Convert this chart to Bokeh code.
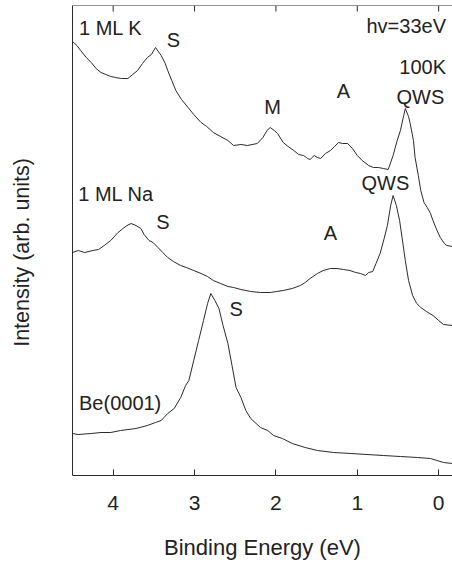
from bokeh.plotting import figure
from bokeh.models import Range1d, LinearAxis, FixedTicker, Label, Span
from bokeh.embed import file_html
from bokeh.resources import INLINE

# ---- data (binding energy in eV, intensity in arb. units) ----
k_energy = [4.50, 4.445, 4.40, 4.33, 4.27, 4.21, 4.15, 4.09, 4.03, 3.97, 3.90, 3.82, 3.76, 3.70, 3.64, 3.58,
            3.53, 3.48, 3.41, 3.36, 3.33, 3.28, 3.23, 3.16, 3.08, 3.01, 2.92, 2.85, 2.77, 2.68, 2.59, 2.52,
            2.43, 2.35, 2.23, 2.16, 2.11, 2.07, 2.02, 1.98, 1.91, 1.85, 1.78, 1.72, 1.66, 1.61, 1.58, 1.53,
            1.49, 1.45, 1.39, 1.33, 1.28, 1.23, 1.18, 1.12, 1.06, 1.00, 0.94, 0.86, 0.80, 0.74, 0.68, 0.62,
            0.56, 0.51, 0.47, 0.43, 0.41, 0.37, 0.35, 0.31, 0.29, 0.25, 0.22, 0.18, 0.14, 0.10, 0.07, 0.02,
            -0.02, -0.07, -0.10, -0.17]
k_intensity = [434, 430, 425, 418, 413, 407, 403, 401, 399, 398, 397, 397, 401, 405, 412, 418,
               421, 428, 420, 412, 405, 395, 385, 376, 368, 361, 353, 349, 343, 339, 335, 330,
               331, 330, 332, 338, 345, 348, 345, 342, 333, 329, 325, 321, 320, 317, 316, 320,
               318, 317, 322, 325, 329, 333, 332, 332, 327, 320, 315, 310, 308, 308, 307, 306,
               320, 335, 345, 360, 367, 359, 352, 335, 318, 300, 285, 273, 268, 262, 255, 245,
               238, 232, 230, 229]

na_energy = [4.50, 4.43, 4.35, 4.25, 4.18, 4.11, 4.03, 3.94, 3.88, 3.83, 3.78, 3.72, 3.66, 3.62, 3.56, 3.51,
             3.45, 3.39, 3.33, 3.26, 3.17, 3.10, 3.01, 2.92, 2.84, 2.77, 2.68, 2.59, 2.52, 2.43, 2.31, 2.19,
             2.07, 1.99, 1.91, 1.80, 1.70, 1.64, 1.58, 1.49, 1.42, 1.33, 1.25, 1.17, 1.09, 1.02, 0.96, 0.90,
             0.86, 0.81, 0.77, 0.72, 0.67, 0.63, 0.59, 0.56, 0.52, 0.48, 0.45, 0.41, 0.37, 0.32, 0.27, 0.22,
             0.15, 0.07, 0.00, -0.06, -0.17]
na_intensity = [223, 225, 223, 225, 226, 230, 235, 243, 247, 250, 252, 250, 247, 241, 235, 233,
                228, 223, 218, 214, 210, 208, 205, 202, 199, 195, 192, 189, 188, 186, 184, 183,
                183, 184, 185, 187, 190, 193, 197, 202, 205, 207, 207, 206, 205, 203, 202, 200,
                203, 204, 212, 222, 237, 250, 270, 280, 270, 255, 238, 215, 195, 180, 172, 168,
                164, 160, 155, 151, 150]

be_energy = [4.50, 4.43, 4.27, 4.15, 4.03, 3.91, 3.72, 3.58, 3.48, 3.41, 3.33, 3.25, 3.17, 3.11, 3.07, 3.01,
             2.95, 2.89, 2.84, 2.80, 2.75, 2.70, 2.65, 2.59, 2.54, 2.49, 2.43, 2.37, 2.31, 2.19, 2.10, 2.03,
             1.92, 1.80, 1.64, 1.49, 1.29, 1.08, 0.88, 0.68, 0.47, 0.26, 0.10, 0.02, -0.06, -0.17]
be_intensity = [42, 41, 42, 43, 43, 45, 47, 50, 53, 55, 62, 67, 78, 90, 95, 115,
                135, 155, 172, 182, 175, 167, 150, 132, 110, 88, 78, 65, 57, 48, 45, 40,
                37, 32, 28, 25, 23, 22, 21, 20, 19, 18, 17, 15, 13, 12]

x_ticks = [0, 1, 2, 3, 4]
y_top = 470

FONT = "Liberation Sans"
TXT = "#222222"
LINE = "#2a2a2a"

p = figure(width=452, height=565, output_backend="svg", toolbar_location=None,
           x_range=Range1d(4.5, -0.17), y_range=Range1d(0, y_top),
           x_axis_location=None, y_axis_location=None,
           min_border_left=72, min_border_right=0, min_border_top=5, min_border_bottom=90)
p.outline_line_color = None
p.grid.visible = False
p.background_fill_color = "white"
p.border_fill_color = "white"

# bottom axis
xb = LinearAxis(ticker=FixedTicker(ticks=x_ticks), axis_label="Binding Energy (eV)")
xb.major_tick_in = 6
xb.major_tick_out = 0
xb.minor_tick_line_color = None
xb.major_label_standoff = 20
xb.major_label_text_font = FONT
xb.major_label_text_font_size = "21px"
xb.major_label_text_color = TXT
xb.axis_label_text_font = FONT
xb.axis_label_text_font_size = "22px"
xb.axis_label_text_font_style = "normal"
xb.axis_label_text_color = TXT
xb.axis_label_standoff = 22
xb.axis_line_color = LINE
xb.major_tick_line_color = LINE
p.add_layout(xb, "below")

# left axis: line + title (non-breaking spaces nudge the centred title downward)
yl = LinearAxis(ticker=FixedTicker(ticks=[]),
                axis_label="Intensity (arb. units)" + "\u00a0" * 4)
yl.major_tick_line_color = None
yl.minor_tick_line_color = None
yl.axis_label_text_font = FONT
yl.axis_label_text_font_size = "21.5px"
yl.axis_label_text_font_style = "normal"
yl.axis_label_text_color = TXT
yl.axis_label_standoff = 39
yl.axis_line_color = LINE
p.add_layout(yl, "left")

# top frame line with inward ticks
p.add_layout(Span(location=y_top, dimension="width", line_color=LINE, line_width=1))
p.segment(x0=x_ticks, y0=[y_top] * len(x_ticks), x1=x_ticks, y1=[y_top - 6] * len(x_ticks),
          line_color=LINE, line_width=1)

for xs, ys in [(k_energy, k_intensity), (na_energy, na_intensity), (be_energy, be_intensity)]:
    p.line(xs, ys, line_color=LINE, line_width=1)

def lab(x, y, t, align="center"):
    p.add_layout(Label(x=x, y=y, text=t, text_align=align, text_baseline="middle",
                       text_font=FONT, text_font_size="20px", text_color=TXT))

lab(4.42, 448, "1 ML K", "left")
lab(3.26, 436, "S")
lab(2.04, 369, "M")
lab(1.17, 385, "A")
lab(0.225, 379, "QWS")
lab(-0.09, 450, "hv=33eV", "right")
lab(-0.09, 409, "100K", "right")
lab(4.43, 282, "1 ML Na", "left")
lab(3.39, 254, "S")
lab(1.33, 243, "A")
lab(0.655, 293, "QWS")
lab(2.49, 167, "S")
lab(4.42, 73, "Be(0001)", "left")

open("out.html", "w").write(file_html(p, INLINE))
